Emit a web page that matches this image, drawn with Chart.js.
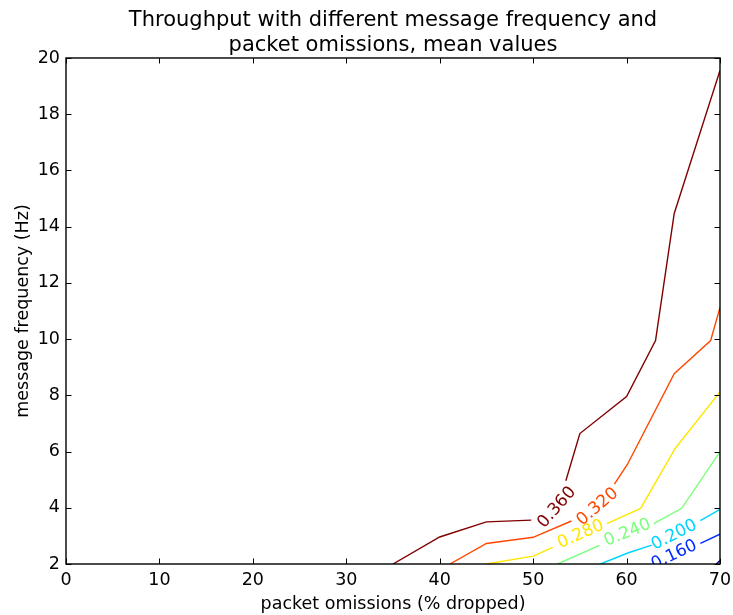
<!DOCTYPE html>
<html>
<head>
<meta charset="utf-8">
<script src="https://cdn.jsdelivr.net/npm/chart.js@4/dist/chart.umd.min.js"></script>
<style>
  html, body { margin: 0; padding: 0; background: #fff; }
  #wrap { width: 733px; height: 615px; position: relative; }
</style>
</head>
<body>
<div id="wrap"><canvas id="chart"></canvas></div>
<script>
// Text
const titleLines = ['Throughput with different message frequency and', 'packet omissions, mean values'];
const xAxisTitle = 'packet omissions (% dropped)';
const yAxisTitle = 'message frequency (Hz)';

// Axis ticks
const xTickValues = [0, 10, 20, 30, 40, 50, 60, 70];
const yTickValues = [2, 4, 6, 8, 10, 12, 14, 16, 18, 20];

// Contour levels of mean throughput and their colours (jet colormap)
const levels = [0.12, 0.16, 0.20, 0.24, 0.28, 0.32, 0.36];
const levelColors = ['#000080', '#002aff', '#00d4ff', '#7bff7b', '#ffe600', '#ff4800', '#800000'];

// Contour paths (x = % dropped, y = Hz); null marks the break left for the inline label
const x012 = [69.6, 70];
const y012 = [2.0, 2.12];
const x016 = [63.3, null, 67.9, 70];
const y016 = [2.0, null, 2.73, 3.06];
const x020 = [57.2, 60.2, 62.7, null, 67.9, 70];
const y020 = [2.0, 2.4, 2.67, null, 3.54, 3.94];
const x024 = [52.6, 57.1, null, 62.9, 65.9, 70];
const y024 = [2.0, 2.66, null, 3.44, 3.98, 5.99];
const x028 = [45.0, 50.0, 52.1, null, 57.9, 61.5, 65.2, 70];
const y028 = [2.0, 2.28, 2.59, null, 3.44, 3.98, 6.11, 8.12];
const x032 = [41.1, 45.0, 50.0, 54.1, null, 58.7, 60.1, 65.1, 69.0, 70];
const y032 = [2.0, 2.73, 2.95, 3.53, null, 4.84, 5.55, 8.77, 9.95, 11.13];
const x036 = [35.0, 40.0, 45.0, 49.8, null, 53.5, 55.0, 60.0, 63.1, 65.1, 70];
const y036 = [2.0, 2.96, 3.50, 3.56, null, 4.96, 6.64, 7.96, 9.95, 14.47, 19.56];

// Inline label anchors, one per level
const labelX = [null, 65.1, 65.1, 60.1, 55.1, 56.9, 52.55];
const labelY = [null, 2.32, 3.03, 3.11, 3.05, 4.03, 4.01];

const contourX = [x012, x016, x020, x024, x028, x032, x036];
const contourY = [y012, y016, y020, y024, y028, y032, y036];

const FONT = '"DejaVu Sans", "Liberation Sans", sans-serif';
const FS = 17.5;

const datasets = levels.map((lv, i) => ({
  label: lv.toFixed(3),
  data: contourX[i].map((x, j) => x === null ? { x: null, y: null } : { x: x, y: contourY[i][j] }),
  borderColor: levelColors[i],
  backgroundColor: levelColors[i],
  borderWidth: 1.4,
  pointRadius: 0,
  pointHoverRadius: 0,
  showLine: true,
  spanGaps: false,
  tension: 0
}));

const frameAndLabels = {
  id: 'frameAndLabels',
  afterDatasetsDraw(chart) {
    const { ctx, chartArea: a, scales } = chart;
    const xs = scales.x, ys = scales.y;

    // inline contour labels, rotated along their line
    ctx.save();
    ctx.beginPath();
    ctx.rect(a.left, a.top, a.right - a.left, a.bottom - a.top);
    ctx.clip();
    ctx.font = '17px ' + FONT;
    ctx.textAlign = 'center';
    ctx.textBaseline = 'middle';
    levels.forEach((lv, i) => {
      if (labelX[i] === null) return;
      const xsArr = contourX[i], ysArr = contourY[i];
      const k = xsArr.indexOf(null);
      if (k < 1) return;
      const p0x = xs.getPixelForValue(xsArr[k - 1]), p0y = ys.getPixelForValue(ysArr[k - 1]);
      const p1x = xs.getPixelForValue(xsArr[k + 1]), p1y = ys.getPixelForValue(ysArr[k + 1]);
      const ang = Math.atan2(p1y - p0y, p1x - p0x);
      ctx.save();
      ctx.translate(xs.getPixelForValue(labelX[i]), ys.getPixelForValue(labelY[i]));
      ctx.rotate(ang);
      ctx.fillStyle = levelColors[i];
      ctx.fillText(lv.toFixed(3), 0, 0);
      ctx.restore();
    });
    ctx.restore();

    // axes frame with inward ticks on all four sides
    ctx.save();
    ctx.strokeStyle = '#000';
    ctx.lineWidth = 1.4;
    ctx.strokeRect(a.left, a.top, a.right - a.left, a.bottom - a.top);
    ctx.lineWidth = 1;
    const tl = 5.5;
    ctx.beginPath();
    xs.ticks.forEach(t => {
      const px = Math.round(xs.getPixelForValue(t.value)) + 0.5;
      ctx.moveTo(px, a.bottom); ctx.lineTo(px, a.bottom - tl);
      ctx.moveTo(px, a.top); ctx.lineTo(px, a.top + tl);
    });
    ys.ticks.forEach(t => {
      const py = Math.round(ys.getPixelForValue(t.value)) + 0.5;
      ctx.moveTo(a.left, py); ctx.lineTo(a.left + tl, py);
      ctx.moveTo(a.right, py); ctx.lineTo(a.right - tl, py);
    });
    ctx.stroke();
    ctx.restore();
  }
};

new Chart(document.getElementById('chart'), {
  type: 'scatter',
  data: { datasets },
  options: {
    responsive: true,
    maintainAspectRatio: false,
    animation: false,
    events: [],
    layout: { padding: { left: 0, right: 13, top: 0, bottom: 0 } },
    plugins: {
      legend: { display: false },
      tooltip: { enabled: false },
      title: {
        display: true,
        fullSize: false,
        text: titleLines,
        color: '#000',
        font: { family: FONT, size: 21, weight: 'normal', lineHeight: 1.19 },
        padding: { top: 8, bottom: 0 }
      }
    },
    scales: {
      x: {
        type: 'linear',
        min: 0, max: 70,
        afterBuildTicks: s => { s.ticks = xTickValues.map(v => ({ value: v })); },
        afterFit: s => { s.height = 51; s.paddingLeft = 0; s.paddingRight = 0; },
        grid: { display: false, drawTicks: false },
        border: { display: false },
        ticks: { color: '#000', font: { family: FONT, size: FS }, padding: 6, maxRotation: 0 },
        title: { display: true, text: xAxisTitle, color: '#000', font: { family: FONT, size: FS, lineHeight: 1.2 }, padding: { top: 0, bottom: 0 } }
      },
      y: {
        type: 'linear',
        min: 2, max: 20,
        afterBuildTicks: s => { s.ticks = yTickValues.map(v => ({ value: v })); },
        afterFit: s => { s.width = 66; s.paddingTop = 0; s.paddingBottom = 0; },
        grid: { display: false, drawTicks: false },
        border: { display: false },
        ticks: { color: '#000', font: { family: FONT, size: FS }, padding: 6 },
        title: { display: true, text: yAxisTitle, color: '#000', font: { family: FONT, size: FS, lineHeight: 1.2 }, padding: { top: 13, bottom: 0 } }
      }
    }
  },
  plugins: [frameAndLabels]
});
</script>
</body>
</html>
